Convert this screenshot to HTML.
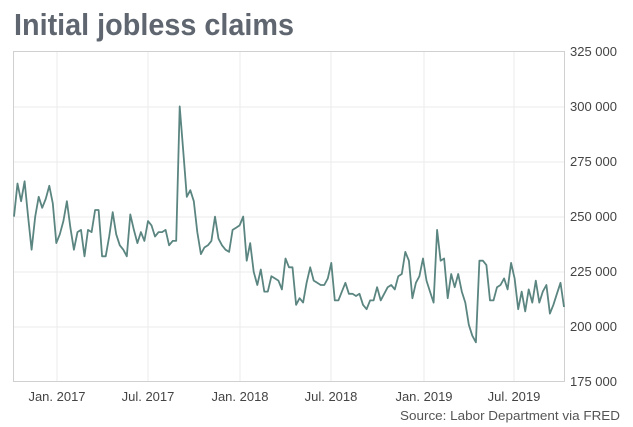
<!DOCTYPE html>
<html><head><meta charset="utf-8"><style>
html,body{margin:0;padding:0;background:#fff;width:633px;height:427px;overflow:hidden;font-family:"Liberation Sans",sans-serif}
</style></head><body>
<svg width="633" height="427" xmlns="http://www.w3.org/2000/svg">
<text x="14" y="35" font-family="Liberation Sans Narrow, Liberation Sans, sans-serif" font-weight="bold" font-size="31" fill="#5f6670" textLength="280" lengthAdjust="spacingAndGlyphs">Initial jobless claims</text>
<g stroke="#ebebeb" stroke-width="1">
<line x1="13" x2="565" y1="107" y2="107"/><line x1="13" x2="565" y1="162" y2="162"/>
<line x1="13" x2="565" y1="217" y2="217"/><line x1="13" x2="565" y1="272" y2="272"/>
<line x1="13" x2="565" y1="327" y2="327"/>
<line x1="57" x2="57" y1="51" y2="382"/><line x1="148" x2="148" y1="51" y2="382"/>
<line x1="240" x2="240" y1="51" y2="382"/><line x1="331" x2="331" y1="51" y2="382"/>
<line x1="424" x2="424" y1="51" y2="382"/><line x1="514" x2="514" y1="51" y2="382"/>
</g>
<rect x="13.5" y="51.5" width="551" height="330" fill="none" stroke="#d0d0d0"/>
<polyline id="ln" fill="none" stroke="#5b8580" stroke-width="1.8" stroke-linejoin="round" points=""/>
<g font-size="13" fill="#444" font-family="Liberation Sans, sans-serif">
<text x="570" y="56">325 000</text><text x="570" y="111">300 000</text>
<text x="570" y="166">275 000</text><text x="570" y="221">250 000</text>
<text x="570" y="276">225 000</text><text x="570" y="331">200 000</text>
<text x="570" y="386">175 000</text>
</g>
<g font-size="13" fill="#444" text-anchor="middle">
<text x="57" y="401">Jan. 2017</text><text x="148" y="401">Jul. 2017</text>
<text x="240" y="401">Jan. 2018</text><text x="331" y="401">Jul. 2018</text>
<text x="424" y="401">Jan. 2019</text><text x="514" y="401">Jul. 2019</text>
</g>
<text x="620" y="420" text-anchor="end" font-size="12.5" fill="#555" textLength="220" lengthAdjust="spacingAndGlyphs">Source: Labor Department via FRED</text>
</svg>
<script>
var v=[250,265,257,266,250,235,250,259,254,258,264,256,238,242,248,257,245,235,243,244,232,244,243,253,253,232,232,241,252,242,237,235,232,251,244,238,243,239,248,246,241,243,243,244,237,239,239,300,280,259,262,257,243,233,236,237,239,250,240,237,235,234,244,245,246,250,230,238,225,219,226,216,216,223,222,221,217,231,227,227,210,213,211,220,227,221,220,219,219,222,229,212,212,216,220,215,215,214,215,210,208,212,212,218,212,215,218,219,217,223,224,234,230,213,220,223,231,221,216,211,244,230,231,213,224,218,224,216,211,201,196,193,230,230,228,212,212,218,219,222,217,229,222,208,216,207,217,211,221,211,216,219,206,210,215,220,209];
var n=v.length,p=[];
for(var i=0;i<n;i++){var x=14+i*(564-14)/(n-1);var y=382-(v[i]-175)*2.205;p.push(x.toFixed(1)+","+y.toFixed(1));}
document.getElementById("ln").setAttribute("points",p.join(" "));
</script>
</body></html>
